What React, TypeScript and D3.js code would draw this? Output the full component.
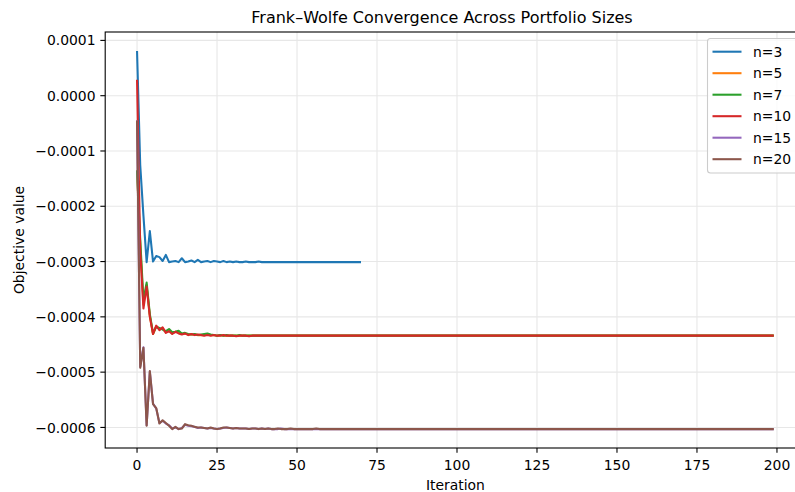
import React from "react";
import * as d3 from "d3";

// values are in units of 1e-4
const VALUE_UNIT = 1e-4;

const seriesNames = ["n=3", "n=5", "n=7", "n=10", "n=15", "n=20"];
const seriesColors = ["#1f77b4", "#ff7f0e", "#2ca02c", "#d62728", "#9467bd", "#8c564b"];

const n3 = [
  0.81, -1.26, -2.17, -3.01, -2.45, -3.0, -2.9, -2.92, -2.99, -2.88,
  -3.01, -3.0, -2.99, -3.01, -2.94, -3.01, -3.0, -2.98, -3.01, -2.97,
  -3.01, -3.0, -2.99, -3.01, -2.99, -3.0, -3.01, -2.99, -3.01, -3.0,
  -3.01, -3.0, -3.01, -3.01, -3.0, -3.01, -3.01, -3.01, -3.0, -3.01,
  -3.01, -3.01, -3.01, -3.01, -3.01, -3.01, -3.01, -3.01, -3.01, -3.01,
  -3.01, -3.01, -3.01, -3.01, -3.01, -3.01, -3.01, -3.01, -3.01, -3.01,
  -3.01, -3.01, -3.01, -3.01, -3.01, -3.01, -3.01, -3.01, -3.01, -3.01,
  -3.01,
];

const n5 = [
  -1.35, -2.7, -3.78, -3.42, -3.98, -4.31, -4.17, -4.22, -4.21, -4.28,
  -4.24, -4.3, -4.27, -4.28, -4.31, -4.3, -4.32, -4.32, -4.32, -4.33,
  -4.33, -4.33, -4.32, -4.33, -4.33, -4.34, -4.33, -4.34, -4.34, -4.34,
  -4.34, -4.34, -4.34, -4.34, -4.34, -4.34, -4.34, -4.34, -4.34, -4.34,
  -4.34, -4.34, -4.34, -4.34, -4.34, -4.34, -4.34, -4.34, -4.34, -4.34,
  -4.34, -4.34, -4.34, -4.34, -4.34, -4.34, -4.34, -4.34, -4.34, -4.34,
  -4.34, -4.34, -4.34, -4.34, -4.34, -4.34, -4.34, -4.34, -4.34, -4.34,
  -4.34, -4.34, -4.34, -4.34, -4.34, -4.34, -4.34, -4.34, -4.34, -4.34,
  -4.34, -4.34, -4.34, -4.34, -4.34, -4.34, -4.34, -4.34, -4.34, -4.34,
  -4.34, -4.34, -4.34, -4.34, -4.34, -4.34, -4.34, -4.34, -4.34, -4.34,
  -4.34, -4.34, -4.34, -4.34, -4.34, -4.34, -4.34, -4.34, -4.34, -4.34,
  -4.34, -4.34, -4.34, -4.34, -4.34, -4.34, -4.34, -4.34, -4.34, -4.34,
  -4.34, -4.34, -4.34, -4.34, -4.34, -4.34, -4.34, -4.34, -4.34, -4.34,
  -4.34, -4.34, -4.34, -4.34, -4.34, -4.34, -4.34, -4.34, -4.34, -4.34,
  -4.34, -4.34, -4.34, -4.34, -4.34, -4.34, -4.34, -4.34, -4.34, -4.34,
  -4.34, -4.34, -4.34, -4.34, -4.34, -4.34, -4.34, -4.34, -4.34, -4.34,
  -4.34, -4.34, -4.34, -4.34, -4.34, -4.34, -4.34, -4.34, -4.34, -4.34,
  -4.34, -4.34, -4.34, -4.34, -4.34, -4.34, -4.34, -4.34, -4.34, -4.34,
  -4.34, -4.34, -4.34, -4.34, -4.34, -4.34, -4.34, -4.34, -4.34, -4.34,
  -4.34, -4.34, -4.34, -4.34, -4.34, -4.34, -4.34, -4.34, -4.34, -4.34,
];

const n7 = [
  -1.35, -2.6, -3.7, -3.38, -3.95, -4.3, -4.18, -4.2, -4.23, -4.26,
  -4.22, -4.28, -4.27, -4.25, -4.3, -4.29, -4.31, -4.32, -4.31, -4.33,
  -4.32, -4.31, -4.3, -4.32, -4.33, -4.34, -4.33, -4.34, -4.33, -4.34,
  -4.34, -4.34, -4.33, -4.34, -4.34, -4.34, -4.34, -4.34, -4.34, -4.34,
  -4.34, -4.34, -4.34, -4.34, -4.34, -4.34, -4.34, -4.34, -4.34, -4.34,
  -4.34, -4.34, -4.34, -4.34, -4.34, -4.34, -4.34, -4.34, -4.34, -4.34,
  -4.34, -4.34, -4.34, -4.34, -4.34, -4.34, -4.34, -4.34, -4.34, -4.34,
  -4.34, -4.34, -4.34, -4.34, -4.34, -4.34, -4.34, -4.34, -4.34, -4.34,
  -4.34, -4.34, -4.34, -4.34, -4.34, -4.34, -4.34, -4.34, -4.34, -4.34,
  -4.34, -4.34, -4.34, -4.34, -4.34, -4.34, -4.34, -4.34, -4.34, -4.34,
  -4.34, -4.34, -4.34, -4.34, -4.34, -4.34, -4.34, -4.34, -4.34, -4.34,
  -4.34, -4.34, -4.34, -4.34, -4.34, -4.34, -4.34, -4.34, -4.34, -4.34,
  -4.34, -4.34, -4.34, -4.34, -4.34, -4.34, -4.34, -4.34, -4.34, -4.34,
  -4.34, -4.34, -4.34, -4.34, -4.34, -4.34, -4.34, -4.34, -4.34, -4.34,
  -4.34, -4.34, -4.34, -4.34, -4.34, -4.34, -4.34, -4.34, -4.34, -4.34,
  -4.34, -4.34, -4.34, -4.34, -4.34, -4.34, -4.34, -4.34, -4.34, -4.34,
  -4.34, -4.34, -4.34, -4.34, -4.34, -4.34, -4.34, -4.34, -4.34, -4.34,
  -4.34, -4.34, -4.34, -4.34, -4.34, -4.34, -4.34, -4.34, -4.34, -4.34,
  -4.34, -4.34, -4.34, -4.34, -4.34, -4.34, -4.34, -4.34, -4.34, -4.34,
  -4.34, -4.34, -4.34, -4.34, -4.34, -4.34, -4.34, -4.34, -4.34, -4.34,
];

const n10 = [
  0.29, -2.8, -3.85, -3.45, -4.0, -4.31, -4.16, -4.24, -4.19, -4.29,
  -4.26, -4.31, -4.27, -4.3, -4.32, -4.3, -4.33, -4.31, -4.33, -4.32,
  -4.33, -4.34, -4.33, -4.34, -4.33, -4.34, -4.34, -4.33, -4.34, -4.34,
  -4.34, -4.35, -4.34, -4.34, -4.34, -4.35, -4.34, -4.34, -4.34, -4.34,
  -4.34, -4.34, -4.34, -4.34, -4.34, -4.34, -4.34, -4.34, -4.34, -4.34,
  -4.34, -4.34, -4.34, -4.34, -4.34, -4.34, -4.34, -4.34, -4.34, -4.34,
  -4.34, -4.34, -4.34, -4.34, -4.34, -4.34, -4.34, -4.34, -4.34, -4.34,
  -4.34, -4.34, -4.34, -4.34, -4.34, -4.34, -4.34, -4.34, -4.34, -4.34,
  -4.34, -4.34, -4.34, -4.34, -4.34, -4.34, -4.34, -4.34, -4.34, -4.34,
  -4.34, -4.34, -4.34, -4.34, -4.34, -4.34, -4.34, -4.34, -4.34, -4.34,
  -4.34, -4.34, -4.34, -4.34, -4.34, -4.34, -4.34, -4.34, -4.34, -4.34,
  -4.34, -4.34, -4.34, -4.34, -4.34, -4.34, -4.34, -4.34, -4.34, -4.34,
  -4.34, -4.34, -4.34, -4.34, -4.34, -4.34, -4.34, -4.34, -4.34, -4.34,
  -4.34, -4.34, -4.34, -4.34, -4.34, -4.34, -4.34, -4.34, -4.34, -4.34,
  -4.34, -4.34, -4.34, -4.34, -4.34, -4.34, -4.34, -4.34, -4.34, -4.34,
  -4.34, -4.34, -4.34, -4.34, -4.34, -4.34, -4.34, -4.34, -4.34, -4.34,
  -4.34, -4.34, -4.34, -4.34, -4.34, -4.34, -4.34, -4.34, -4.34, -4.34,
  -4.34, -4.34, -4.34, -4.34, -4.34, -4.34, -4.34, -4.34, -4.34, -4.34,
  -4.34, -4.34, -4.34, -4.34, -4.34, -4.34, -4.34, -4.34, -4.34, -4.34,
  -4.34, -4.34, -4.34, -4.34, -4.34, -4.34, -4.34, -4.34, -4.34, -4.34,
];

const n15 = [
  -0.45, -4.9, -4.55, -5.96, -4.99, -5.57, -5.66, -5.92, -5.88, -5.93,
  -5.96, -6.02, -6.0, -6.03, -6.01, -5.95, -5.97, -5.98, -5.99, -6.01,
  -6.0, -6.01, -6.02, -6.01, -6.02, -6.03, -6.02, -6.01, -6.0, -6.01,
  -6.02, -6.01, -6.02, -6.02, -6.02, -6.03, -6.02, -6.02, -6.03, -6.02,
  -6.03, -6.02, -6.03, -6.03, -6.03, -6.02, -6.03, -6.03, -6.03, -6.03,
  -6.03, -6.03, -6.03, -6.03, -6.03, -6.03, -6.03, -6.03, -6.03, -6.03,
  -6.03, -6.03, -6.03, -6.03, -6.03, -6.03, -6.03, -6.03, -6.03, -6.03,
  -6.03, -6.03, -6.03, -6.03, -6.03, -6.03, -6.03, -6.03, -6.03, -6.03,
  -6.03, -6.03, -6.03, -6.03, -6.03, -6.03, -6.03, -6.03, -6.03, -6.03,
  -6.03, -6.03, -6.03, -6.03, -6.03, -6.03, -6.03, -6.03, -6.03, -6.03,
  -6.03, -6.03, -6.03, -6.03, -6.03, -6.03, -6.03, -6.03, -6.03, -6.03,
  -6.03, -6.03, -6.03, -6.03, -6.03, -6.03, -6.03, -6.03, -6.03, -6.03,
  -6.03, -6.03, -6.03, -6.03, -6.03, -6.03, -6.03, -6.03, -6.03, -6.03,
  -6.03, -6.03, -6.03, -6.03, -6.03, -6.03, -6.03, -6.03, -6.03, -6.03,
  -6.03, -6.03, -6.03, -6.03, -6.03, -6.03, -6.03, -6.03, -6.03, -6.03,
  -6.03, -6.03, -6.03, -6.03, -6.03, -6.03, -6.03, -6.03, -6.03, -6.03,
  -6.03, -6.03, -6.03, -6.03, -6.03, -6.03, -6.03, -6.03, -6.03, -6.03,
  -6.03, -6.03, -6.03, -6.03, -6.03, -6.03, -6.03, -6.03, -6.03, -6.03,
  -6.03, -6.03, -6.03, -6.03, -6.03, -6.03, -6.03, -6.03, -6.03, -6.03,
  -6.03, -6.03, -6.03, -6.03, -6.03, -6.03, -6.03, -6.03, -6.03, -6.03,
];

const n20 = [
  -0.45, -4.92, -4.56, -5.97, -4.98, -5.58, -5.65, -5.93, -5.87, -5.92,
  -5.97, -6.03, -5.99, -6.03, -6.02, -5.94, -5.96, -5.97, -5.99, -6.0,
  -6.0, -6.01, -6.02, -6.0, -6.02, -6.03, -6.02, -6.0, -6.0, -6.01,
  -6.02, -6.01, -6.02, -6.02, -6.02, -6.03, -6.02, -6.02, -6.03, -6.02,
  -6.03, -6.02, -6.03, -6.03, -6.02, -6.03, -6.03, -6.03, -6.02, -6.03,
  -6.03, -6.03, -6.03, -6.03, -6.03, -6.03, -6.02, -6.03, -6.03, -6.03,
  -6.03, -6.03, -6.03, -6.03, -6.03, -6.03, -6.03, -6.03, -6.03, -6.03,
  -6.03, -6.03, -6.03, -6.03, -6.03, -6.03, -6.03, -6.03, -6.03, -6.03,
  -6.03, -6.03, -6.03, -6.03, -6.03, -6.03, -6.03, -6.03, -6.03, -6.03,
  -6.03, -6.03, -6.03, -6.03, -6.03, -6.03, -6.03, -6.03, -6.03, -6.03,
  -6.03, -6.03, -6.03, -6.03, -6.03, -6.03, -6.03, -6.03, -6.03, -6.03,
  -6.03, -6.03, -6.03, -6.03, -6.03, -6.03, -6.03, -6.03, -6.03, -6.03,
  -6.03, -6.03, -6.03, -6.03, -6.03, -6.03, -6.03, -6.03, -6.03, -6.03,
  -6.03, -6.03, -6.03, -6.03, -6.03, -6.03, -6.03, -6.03, -6.03, -6.03,
  -6.03, -6.03, -6.03, -6.03, -6.03, -6.03, -6.03, -6.03, -6.03, -6.03,
  -6.03, -6.03, -6.03, -6.03, -6.03, -6.03, -6.03, -6.03, -6.03, -6.03,
  -6.03, -6.03, -6.03, -6.03, -6.03, -6.03, -6.03, -6.03, -6.03, -6.03,
  -6.03, -6.03, -6.03, -6.03, -6.03, -6.03, -6.03, -6.03, -6.03, -6.03,
  -6.03, -6.03, -6.03, -6.03, -6.03, -6.03, -6.03, -6.03, -6.03, -6.03,
  -6.03, -6.03, -6.03, -6.03, -6.03, -6.03, -6.03, -6.03, -6.03, -6.03,
];

const xTicks = [0, 25, 50, 75, 100, 125, 150, 175, 200];
const yTicks = [1, 0, -1, -2, -3, -4, -5, -6];
const yTickLabels = ["0.0001", "0.0000", "\u22120.0001", "\u22120.0002", "\u22120.0003", "\u22120.0004", "\u22120.0005", "\u22120.0006"];

const TITLE = "Frank\u2013Wolfe Convergence Across Portfolio Sizes";
const X_LABEL = "Iteration";
const Y_LABEL = "Objective value";

const W = 795;
const H = 492;
const FONT = "DejaVu Sans, Liberation Sans, sans-serif";
const PLOT = { left: 105.2, right: 805.6, top: 32, bottom: 448 };

export default function App() {
  const allSeries = [n3, n5, n7, n10, n15, n20].map((arr) =>
    arr.map((v, i) => ({ x: i, y: v * VALUE_UNIT }))
  );
  const allPts = allSeries.flat();
  const [xmin, xmax] = d3.extent(allPts, (p) => p.x) as [number, number];
  const [ymin, ymax] = d3.extent(allPts, (p) => p.y) as [number, number];
  const xm = (xmax - xmin) * 0.05;
  const ym = (ymax - ymin) * 0.05;

  const x = d3.scaleLinear().domain([xmin - xm, xmax + xm]).range([PLOT.left, PLOT.right]);
  const y = d3.scaleLinear().domain([ymin - ym, ymax + ym]).range([PLOT.bottom, PLOT.top]);

  const line = d3
    .line<{ x: number; y: number }>()
    .x((d) => x(d.x))
    .y((d) => y(d.y));

  const gridColor = "#e7e7e7";
  const fs = 13.9;

  // legend geometry
  const legLeft = 707.5;
  const legTop = 38.5;
  const rowH = 21.5;
  const legH = 134.5;
  const legW = 92;

  return (
    <svg
      width={W}
      height={H}
      viewBox={`0 0 ${W} ${H}`}
      style={{ position: "absolute", left: 0, top: 0, background: "#fff" }}
      fontFamily={FONT}
    >
      <rect x={0} y={0} width={W} height={H} fill="#fff" />
      <defs>
        <clipPath id="plotclip">
          <rect x={PLOT.left} y={PLOT.top} width={PLOT.right - PLOT.left} height={PLOT.bottom - PLOT.top} />
        </clipPath>
      </defs>

      {/* grid */}
      <g stroke={gridColor} strokeWidth={1.1}>
        {xTicks.map((t) => (
          <line key={"gx" + t} x1={x(t)} x2={x(t)} y1={PLOT.top} y2={PLOT.bottom} />
        ))}
        {yTicks.map((t) => (
          <line key={"gy" + t} x1={PLOT.left} x2={PLOT.right} y1={y(t * VALUE_UNIT)} y2={y(t * VALUE_UNIT)} />
        ))}
      </g>

      {/* series */}
      <g clipPath="url(#plotclip)" fill="none" strokeWidth={2.08} strokeLinejoin="round" strokeLinecap="butt">
        {allSeries.map((s, i) => (
          <path key={seriesNames[i]} d={line(s) || ""} stroke={seriesColors[i]} />
        ))}
      </g>

      {/* spines */}
      <rect
        x={PLOT.left}
        y={PLOT.top}
        width={PLOT.right - PLOT.left}
        height={PLOT.bottom - PLOT.top}
        fill="none"
        stroke="#000"
        strokeWidth={1.1}
      />

      {/* x ticks */}
      {xTicks.map((t) => (
        <g key={"xt" + t}>
          <line x1={x(t)} x2={x(t)} y1={PLOT.bottom} y2={PLOT.bottom + 4.86} stroke="#000" strokeWidth={1.1} />
          <text x={x(t)} y={PLOT.bottom + 21.5} fontSize={fs} textAnchor="middle" fill="#000">
            {t}
          </text>
        </g>
      ))}

      {/* y ticks */}
      {yTicks.map((t, i) => (
        <g key={"yt" + t}>
          <line
            x1={PLOT.left - 4.86}
            x2={PLOT.left}
            y1={y(t * VALUE_UNIT)}
            y2={y(t * VALUE_UNIT)}
            stroke="#000"
            strokeWidth={1.1}
          />
          <text x={PLOT.left - 9.7} y={y(t * VALUE_UNIT) + 5.07} fontSize={fs} textAnchor="end" fill="#000">
            {yTickLabels[i]}
          </text>
        </g>
      ))}

      {/* labels */}
      <text x={442} y={23} fontSize={16} textAnchor="middle" fill="#000">
        {TITLE}
      </text>
      <text x={(PLOT.left + PLOT.right) / 2} y={489.5} fontSize={fs} textAnchor="middle" fill="#000">
        {X_LABEL}
      </text>
      <text
        transform={`translate(24,${(PLOT.top + PLOT.bottom) / 2}) rotate(-90)`}
        fontSize={fs}
        textAnchor="middle"
        fill="#000"
      >
        {Y_LABEL}
      </text>

      {/* legend */}
      <g>
        <rect
          x={legLeft}
          y={legTop}
          width={legW}
          height={legH}
          rx={3}
          ry={3}
          fill="#fff"
          fillOpacity={0.8}
          stroke="#cccccc"
          strokeWidth={1.1}
        />
        {seriesNames.map((name, i) => {
          const cy = legTop + 13.2 + i * rowH;
          return (
            <g key={"leg" + name}>
              <line x1={legLeft + 5} x2={legLeft + 34} y1={cy} y2={cy} stroke={seriesColors[i]} strokeWidth={2.08} />
              <text x={legLeft + 45.5} y={cy + 5.07} fontSize={fs} fill="#000">
                {name}
              </text>
            </g>
          );
        })}
      </g>
    </svg>
  );
}
